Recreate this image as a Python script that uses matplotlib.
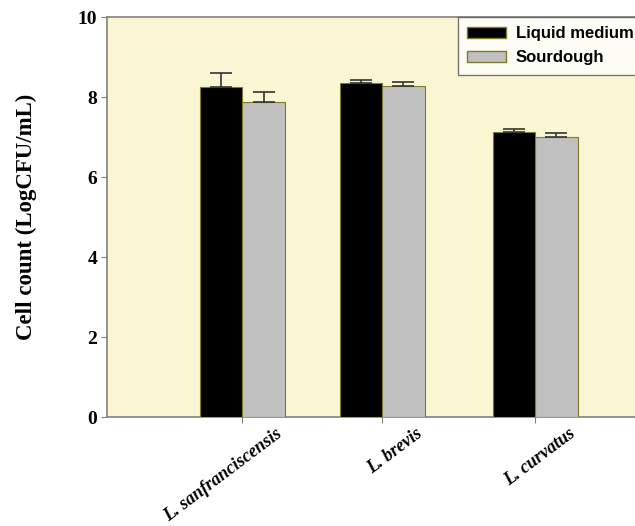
import numpy as np
import matplotlib.pyplot as plt
import matplotlib.transforms as mtransforms
from matplotlib.patches import Patch

strains = ["L. sanfranciscensis", "L. brevis", "L. curvatus"]
liquid = [8.25, 8.35, 7.12]
liquid_err = [0.35, 0.08, 0.09]
sourdough = [7.88, 8.28, 7.0]
sourdough_err = [0.24, 0.1, 0.1]

bg = "#FAF6D3"
edge = "#7d7a2a"
spine = "#808080"

fig = plt.figure(figsize=(6.35, 5.26), dpi=100)
ax = fig.add_axes([107 / 635, 109 / 526, 560 / 635, 400 / 526])
ax.set_facecolor(bg)

# group centres, middle group sits a little left of even spacing
x = np.array([0.0, 0.955, 2.0])
w = 0.29
err_kw = dict(capsize=8, elinewidth=1.2, capthick=1.2)
ax.bar(x - w / 2, liquid, w, color="black", edgecolor=edge, linewidth=0.8,
       yerr=[np.zeros(3), liquid_err], ecolor="#333333", error_kw=err_kw,
       zorder=3)
ax.bar(x + w / 2, sourdough, w, color="#C0C0C0", edgecolor=edge, linewidth=0.8,
       yerr=[np.zeros(3), sourdough_err], ecolor="#333333", error_kw=err_kw,
       zorder=3)

ax.set_xlim(-0.925, 2.9)
ax.set_ylim(0, 10)
ax.set_yticks(range(0, 11, 2))
ax.tick_params(axis="y", length=4, color=spine, labelsize=14, pad=3)
ax.tick_params(axis="x", length=4, color=spine, pad=0)
for lab in ax.get_yticklabels():
    lab.set_fontfamily("Liberation Serif")
    lab.set_fontweight("bold")

ax.set_xticks(x)
ax.set_xticklabels(strains, rotation=37, ha="right", va="top",
                   rotation_mode="anchor", fontfamily="Liberation Serif",
                   fontweight="bold", fontstyle="italic", fontsize=13)
shift = mtransforms.ScaledTranslation(33 / 100, -3 / 100, fig.dpi_scale_trans)
for lab in ax.get_xticklabels():
    lab.set_transform(lab.get_transform() + shift)

ax.set_ylabel("Cell count (LogCFU/mL)", fontfamily="Liberation Serif",
              fontweight="bold", fontsize=16.5)
ax.yaxis.set_label_coords(-(107 - 37) / 560, 0.5)

for s in ["left", "bottom", "top"]:
    ax.spines[s].set_color(spine)
    ax.spines[s].set_linewidth(1.2)
ax.spines["right"].set_visible(False)

handles = [Patch(facecolor="black", edgecolor=edge, label="Liquid medium"),
           Patch(facecolor="#C0C0C0", edgecolor=edge, label="Sourdough")]
leg = ax.legend(handles=handles, loc="upper left",
                bbox_to_anchor=((458 - 107) / 560, 1.0),
                prop=dict(family="Liberation Sans", weight="bold", size=12),
                frameon=True, fancybox=False, borderaxespad=0,
                handlelength=2.3, handleheight=0.6, labelspacing=0.55,
                borderpad=0.55, handletextpad=0.6)
leg.get_frame().set_edgecolor("#555555")
leg.get_frame().set_linewidth(1.0)
leg.get_frame().set_facecolor("white")

fig.savefig("out.png", dpi=100)
